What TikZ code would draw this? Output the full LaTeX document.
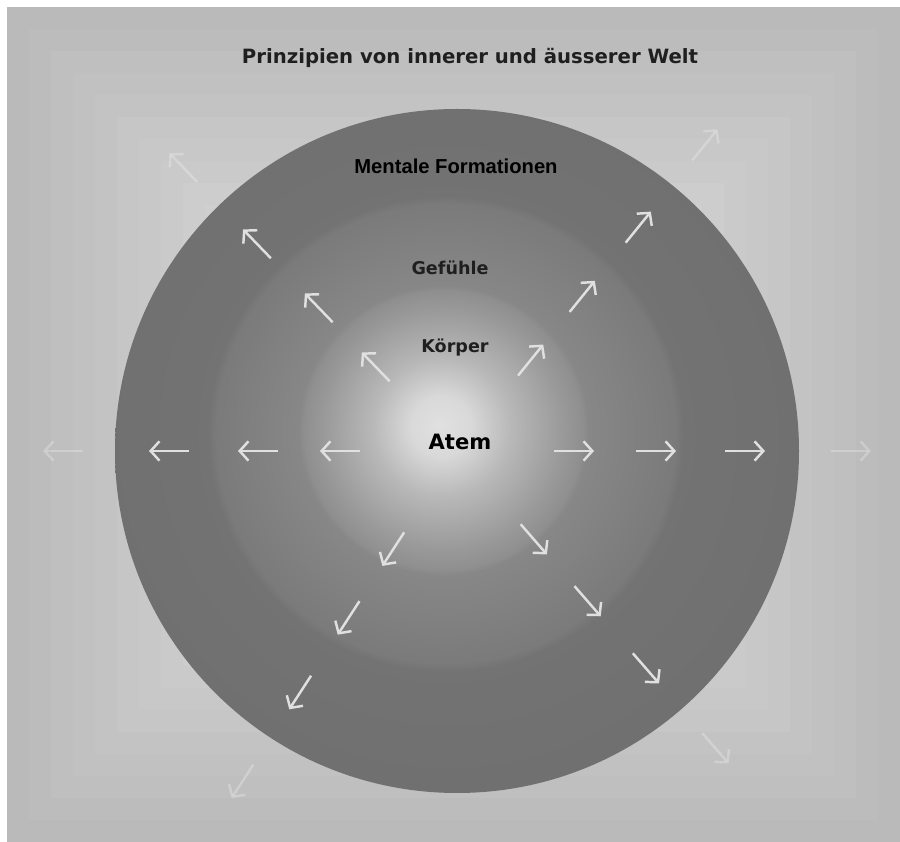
\documentclass[tikz,border=0pt]{standalone}
\usepackage{fontspec}
\setmainfont{DejaVu Sans}
\newfontfamily\heavyfont{Liberation Sans}
\usepackage{tikz}
\usetikzlibrary{positioning,calc,arrows.meta}

\pgfdeclareradialshading{breath}{\pgfpoint{-1.25bp}{1.9bp}}{%
  color(0bp)=(black!12); color(2.2bp)=(black!15); color(5.1bp)=(black!28);
  color(8.8bp)=(black!40); color(10.2bp)=(black!44); color(10.6bp)=(black!47);
  color(16.8bp)=(black!52); color(17.4bp)=(black!55); color(25bp)=(black!56);
  color(50bp)=(black!56)}

\begin{document}
\begin{tikzpicture}[x=0.02cm, y=0.02cm,
    outflow/.style={draw=black!12, line width=1.4pt, -{Straight Barb[length=5pt,width=11pt]}},
    fadeflow/.style={outflow, draw=white, draw opacity=0.25},
    ringtext/.style={font=\bfseries\fontsize{10}{12}\selectfont, text=black!88}]
    \useasboundingbox (0,0) rectangle (900,842);
    \fill[white] (0,0) rectangle (900,842);
    \foreach \k [evaluate=\k as \bgtone using 27-0.9*\k] in {0,...,13}
        \fill[black!\bgtone] (7+22*\k, 22*\k) rectangle (900-22*\k, 835-22*\k);

    \coordinate (centre) at (457,391);
    \shade[shading=breath] (centre) circle (342);

    \begin{scope}[shift={(centre)}]
        \foreach \a in {0,51,134,180,237,311} {
            \foreach \d in {117,199,288}
                \draw[outflow] (\a:{\d-20}) -- (\a:{\d+20});
            \draw[fadeflow] (\a:374) -- (\a:414);
        }
    \end{scope}

    \node [font=\bfseries\fontsize{11.2}{13}\selectfont, text=black!88] (title) at (470,784) {Prinzipien von innerer und äusserer Welt};
    \node [font=\heavyfont\bfseries\fontsize{11.5}{13}\selectfont] (mental) at (456,676) {Mentale Formationen};
    \node [ringtext] (feeling) at (450,574) {Gefühle};
    \node [ringtext] (body) at (455,494) {Körper};
    \node [ringtext, font=\bfseries\fontsize{12}{14}\selectfont, text=black] (breath) at (460,400) {Atem};
\end{tikzpicture}
\end{document}
